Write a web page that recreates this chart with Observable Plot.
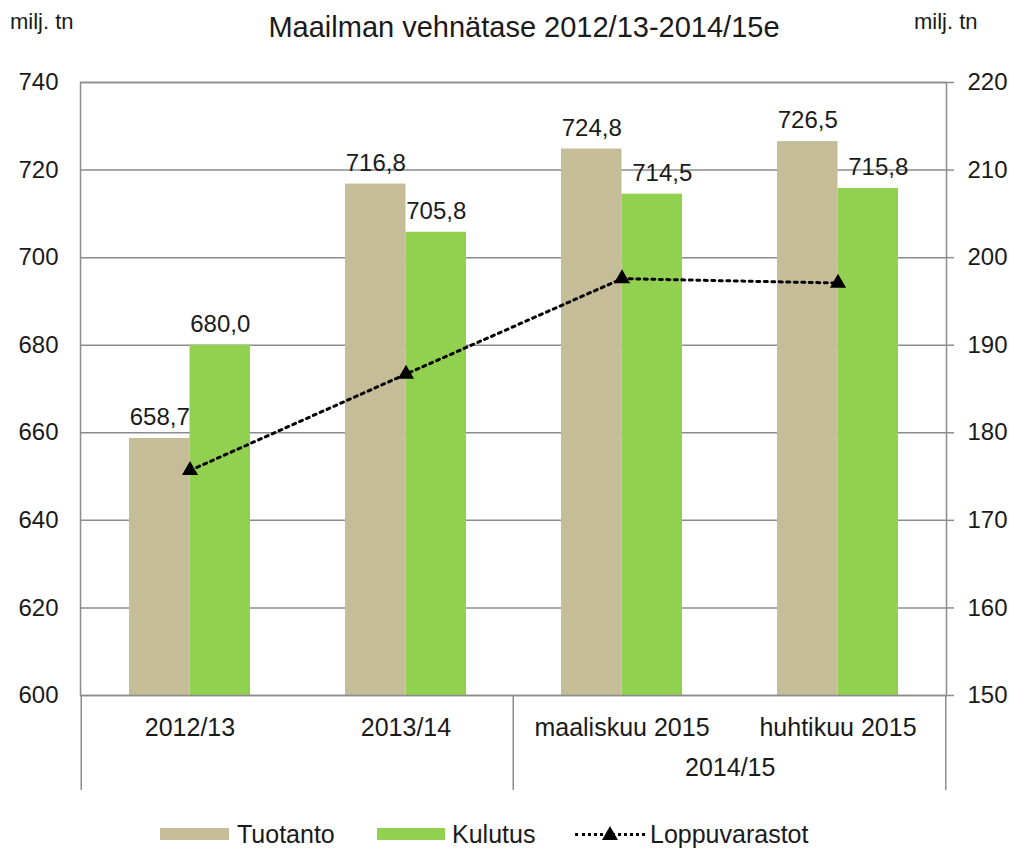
<!DOCTYPE html>
<html><head><meta charset="utf-8">
<script src="https://cdn.jsdelivr.net/npm/d3@7"></script>
<script src="https://cdn.jsdelivr.net/npm/@observablehq/plot@0.6"></script>
<style>
body{margin:0;background:#fff;font-family:"Liberation Sans",Arial,sans-serif;color:#1a1a1a}
#wrap{position:relative;width:1009px;height:849px;overflow:hidden;background:#fff}
.abs{position:absolute;white-space:nowrap;line-height:1}
#wrap svg{position:absolute;left:0;top:0}
</style></head><body><div id="wrap"></div>
<script>
// ---- data ----
const categories = ["2012/13", "2013/14", "maaliskuu 2015", "huhtikuu 2015"];
const tuotanto = [658.7, 716.8, 724.8, 726.5];
const kulutus = [680.0, 705.8, 714.5, 715.8];
const loppuvarastot = [175.7, 186.7, 197.6, 197.1];
const leftTicks = [600, 620, 640, 660, 680, 700, 720, 740];
const rightTicks = [150, 160, 170, 180, 190, 200, 210, 220];
const groupLabel = "2014/15";
const titleText = "Maailman vehnätase 2012/13-2014/15e";
const unitText = "milj. tn";
const seriesNames = ["Tuotanto", "Kulutus", "Loppuvarastot"];

// ---- layout / style ----
const W = 1009, H = 849, mL = 80, mR = 63, mT = 82, mB = 154;
const colTan = "#C4BD97", colGreen = "#92D050", gridCol = "#8c8c8c";
const yDomain = [leftTicks[0], leftTicks[leftTicks.length - 1]];
const rDomain = [rightTicks[0], rightTicks[rightTicks.length - 1]];
const toLeft = r => yDomain[0] + (r - rDomain[0]) * (yDomain[1] - yDomain[0]) / (rDomain[1] - rDomain[0]);
const toRight = v => rDomain[0] + (v - yDomain[0]) * (rDomain[1] - rDomain[0]) / (yDomain[1] - yDomain[0]);
const fmt = v => d3.format(".1f")(v).replace(".", ",");

const rows = categories.map((c, i) => ({c, i, t: tuotanto[i], k: kulutus[i], l: toLeft(loppuvarastot[i])}));
const step = (W - mL - mR) / categories.length;
const bandFrac = 121 / 216.5;
const half = step * bandFrac / 2;
const font = "'Liberation Sans', Arial, sans-serif";

const plot = Plot.plot({
  width: W, height: H,
  marginLeft: mL, marginRight: mR, marginTop: mT, marginBottom: mB,
  style: {fontFamily: font, fontSize: "24px", color: "#1a1a1a", background: "transparent", overflow: "visible"},
  x: {type: "band", domain: categories, paddingInner: 1 - bandFrac, paddingOuter: (1 - bandFrac) / 2, axis: null, label: null},
  y: {domain: yDomain, axis: null, label: null},
  marks: [
    Plot.gridY(leftTicks, {stroke: gridCol, strokeOpacity: 1, strokeWidth: 1.5}),
    Plot.barY(rows, {x: "c", y1: yDomain[0], y2: "t", fill: colTan, insetRight: half}),
    Plot.barY(rows, {x: "c", y1: yDomain[0], y2: "k", fill: colGreen, insetLeft: half}),
    Plot.frame({stroke: gridCol, strokeWidth: 1.5}),
    Plot.axisY(leftTicks, {anchor: "left", tickSize: 0, tickPadding: 22, fontSize: 24, label: null}),
    Plot.axisY(leftTicks, {anchor: "right", tickSize: 7, tickPadding: 14, fontSize: 24, stroke: gridCol, strokeWidth: 1.5, label: null, tickFormat: d => String(toRight(d))}),
    Plot.axisX({tickSize: 0, tickPadding: 23, fontSize: 25, label: null}),
    Plot.text([groupLabel], {x: () => categories[2], text: d => d, frameAnchor: "bottom", dx: step / 2, dy: 80, fontSize: 25}),
    Plot.line(rows, {x: "c", y: "l", stroke: "black", strokeWidth: 3, strokeDasharray: "3,4.5"}),
    Plot.dot(rows, {x: "c", y: "l", symbol: "triangle", r: 6, fill: "black", stroke: "none"}),
    Plot.text(rows, {x: "c", y: "t", text: d => fmt(d.t), dx: -half / 2, dy: -21, fontSize: 24, fill: "#1a1a1a"}),
    Plot.text(rows.filter(d => d.i < 2), {x: "c", y: "k", text: d => fmt(d.k), dx: half / 2, dy: -21, fontSize: 24, fill: "#1a1a1a"}),
    Plot.text(rows.filter(d => d.i >= 2), {x: "c", y: "k", text: d => fmt(d.k), dx: half / 2 + 10, dy: -21, fontSize: 24, fill: "#1a1a1a"})
  ]
});

const wrap = document.getElementById("wrap");
wrap.appendChild(plot);

// group separators below the axis, positioned from the x scale
const xs = plot.scale("x");
const ys = plot.scale("y");
const gap = (step - xs.bandwidth) / 2;
const bounds = [xs.apply(categories[0]) - gap, xs.apply(categories[2]) - gap, xs.apply(categories[3]) + xs.bandwidth + gap];
const yb = ys.apply(yDomain[0]);
d3.select(plot).append("g").selectAll("line").data(bounds).join("line")
  .attr("x1", d => d).attr("x2", d => d).attr("y1", yb).attr("y2", yb + 95)
  .attr("stroke", gridCol).attr("stroke-width", 1.5);

// title and unit labels
function addText(txt, left, top, size, extra) {
  const d = document.createElement("div");
  d.className = "abs"; d.textContent = txt;
  d.style.left = left + "px"; d.style.top = top + "px"; d.style.fontSize = size + "px";
  if (extra) Object.assign(d.style, extra);
  wrap.appendChild(d); return d;
}
addText(titleText, 524, 13, 29, {transform: "translateX(-50%)"});
addText(unitText, 10, 11, 22);
addText(unitText, 914, 11, 22);

// legend
function addBox(left, top, w, h, style) {
  const d = document.createElement("div");
  d.style.position = "absolute"; d.style.left = left + "px"; d.style.top = top + "px";
  d.style.width = w + "px"; d.style.height = h + "px";
  Object.assign(d.style, style); wrap.appendChild(d); return d;
}
addBox(160, 828, 69, 12, {background: colTan});
addText(seriesNames[0], 237, 822, 25);
addBox(377, 828, 68, 12, {background: colGreen});
addText(seriesNames[1], 452, 822, 25);
addBox(575, 833, 70, 0, {borderTop: "3px dotted #000"});
addBox(602, 826, 0, 0, {borderLeft: "8px solid transparent", borderRight: "8px solid transparent", borderBottom: "14px solid #000"});
addText(seriesNames[2], 650, 822, 25);
</script></body></html>
